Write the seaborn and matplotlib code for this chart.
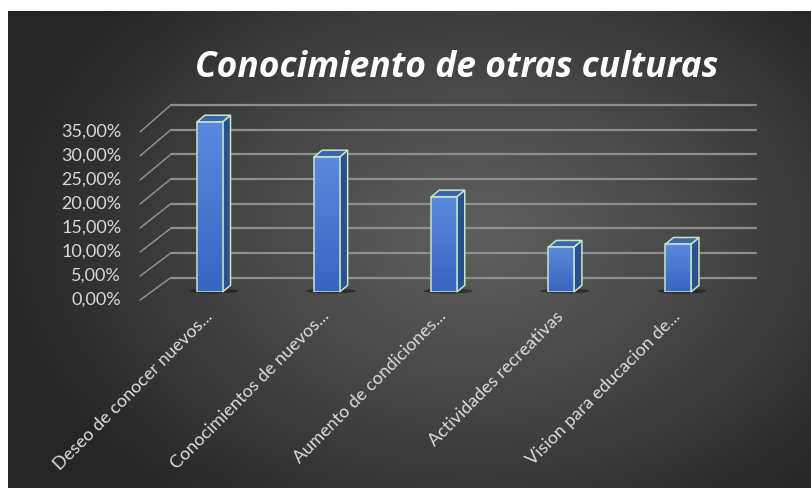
import numpy as np
import pandas as pd
import matplotlib
matplotlib.use("Agg")
import matplotlib.pyplot as plt
import matplotlib.transforms as mtrans
import seaborn as sns
from matplotlib.patches import Polygon, Ellipse

# ---------------- data ----------------
categories = [
    "Deseo de conocer nuevos...",
    "Conocimientos de nuevos...",
    "Aumento de condiciones...",
    "Actividades recreativas",
    "Vision para educacion de...",
]
values = [34.5, 27.4, 19.3, 9.1, 9.7]
y_ticks = [0, 5, 10, 15, 20, 25, 30, 35]
y_tick_labels = ["0,00%", "5,00%", "10,00%", "15,00%", "20,00%", "25,00%", "30,00%", "35,00%"]
title_text = "Conocimiento de otras culturas"

# ---------------- figure ----------------
W, H = 811, 488
sns.set_theme(style="white")
plt.rcParams["font.family"] = ["Lato", "DejaVu Sans"]
fig = plt.figure(figsize=(W / 100, H / 100), dpi=100)
fig.patch.set_facecolor("white")

# dark radial-gradient chart area
bg = fig.add_axes([8 / W, -0.03, (W - 8) / W + 0.01, (H - 11) / H + 0.03])
bg.set_axis_off()
xs = np.linspace(8, W, 400)
ys = np.linspace(11, H + 15, 250)
X, Y = np.meshgrid(xs, ys)
r = np.sqrt(((X - 470) / 470) ** 2 + ((Y - 235) / 340) ** 2)
t = np.clip(r, 0, 1) ** 1.2
c0 = np.array([0x5d, 0x5d, 0x5d]) / 255
c1 = np.array([0x26, 0x26, 0x26]) / 255
img = c0 + (c1 - c0) * t[..., None]
bg.imshow(img, extent=[0, 1, 0, 1], aspect="auto", origin="upper")
bg.set_xlim(0, 1)
bg.set_ylim(0, 1)

# main axes: front plane of bars
ppu = 4.93
base_y = 292
ax = fig.add_axes([151.2 / W, (H - base_y) / H, 585.6 / W, 35 * ppu / H])
ax.patch.set_visible(False)

df = pd.DataFrame({"cat": categories, "val": values})
sns.barplot(data=df, x="cat", y="val", ax=ax, width=0.218, color="#4a78cc",
            saturation=1, edgecolor="#c2e8c6", linewidth=1.1, zorder=4)
ax.set_xlim(-0.5, 4.5)
ax.set_ylim(0, 35)
for s in ax.spines.values():
    s.set_visible(False)
ax.set_xlabel("")
ax.set_ylabel("")
ax.set_yticks([])
ax.set_xticks(range(len(categories)))
ax.set_xticklabels(categories, rotation=45, ha="right", va="center",
                   rotation_mode="anchor", color="#dcdcdc", fontsize=13)
ax.tick_params(axis="x", length=0, pad=15.5)

ID = mtrans.IdentityTransform()


def D(x, y, dx=0.0, dy=0.0):
    p = ax.transData.transform((x, y))
    return np.array([p[0] + dx, p[1] + dy])


grid_col = "#8e8e8e"
back_dx, back_dy = 19.5, 14.3
for yv, lab in zip(y_ticks, y_tick_labels):
    lab_dy = -8 - 0.123 * yv
    a = D(-0.5, yv, back_dx, back_dy)
    b = D(4.5, yv, back_dx, back_dy)
    ax.add_line(plt.Line2D([a[0], b[0]], [a[1], b[1]], transform=ID, color=grid_col,
                           lw=1.6, clip_on=False, zorder=1))
    f = D(-0.5, yv, -11, lab_dy)
    ax.add_line(plt.Line2D([f[0], a[0]], [f[1], a[1]], transform=ID, color=grid_col,
                           lw=1.1, clip_on=False, zorder=1))
    tp = D(-0.5, yv, -30, lab_dy)
    ax.text(tp[0], tp[1], lab, transform=ID, ha="right", va="center",
            color="#d8d8d8", fontsize=13)

# 3D faces for each bar
ddx, ddy = 8.0, 6.7
grad = np.linspace(0, 1, 64)[:, None]
top_c = np.array([0x5a, 0x8a, 0xdc]) / 255
bot_c = np.array([0x38, 0x64, 0xc2]) / 255
for p in list(ax.patches):
    x0, w, h = p.get_x(), p.get_width(), p.get_height()
    bl, br = D(x0, 0), D(x0 + w, 0)
    tl, tr = D(x0, h), D(x0 + w, h)
    d = np.array([ddx, ddy])
    # shadow
    cx = (bl[0] + br[0]) / 2 + 4
    ax.add_patch(Ellipse((cx, bl[1] + 1), (br[0] - bl[0]) + 24, 5, transform=ID,
                         facecolor="#151515", alpha=0.55, edgecolor="none",
                         clip_on=False, zorder=2))
    # side face
    ax.add_patch(Polygon([br, br + d, tr + d, tr], closed=True, transform=ID,
                         facecolor="#2c4f8e", edgecolor="#c2e8c6", linewidth=1.1,
                         clip_on=False, zorder=3))
    # top face
    ax.add_patch(Polygon([tl, tr, tr + d, tl + d], closed=True, transform=ID,
                         facecolor="#3e64aa", edgecolor="#c2e8c6", linewidth=1.1,
                         clip_on=False, zorder=3))
    # front gradient
    g = top_c + (bot_c - top_c) * grad[..., None] * np.ones((1, 4, 1))
    im = ax.imshow(g, extent=[x0, x0 + w, 0, h], aspect="auto", origin="upper",
                   zorder=3.5)
    im.set_clip_path(p)
    p.set_facecolor("none")

ax.set_xlim(-0.5, 4.5)
ax.set_ylim(0, 35)

fig.text(456.5 / W, (H - 77) / H, title_text, ha="center", va="baseline",
         fontsize=25.5, fontweight="bold", fontstyle="italic", color="white",
         family=["Open Sans", "DejaVu Sans"])

fig.savefig("out.png", dpi=100)
